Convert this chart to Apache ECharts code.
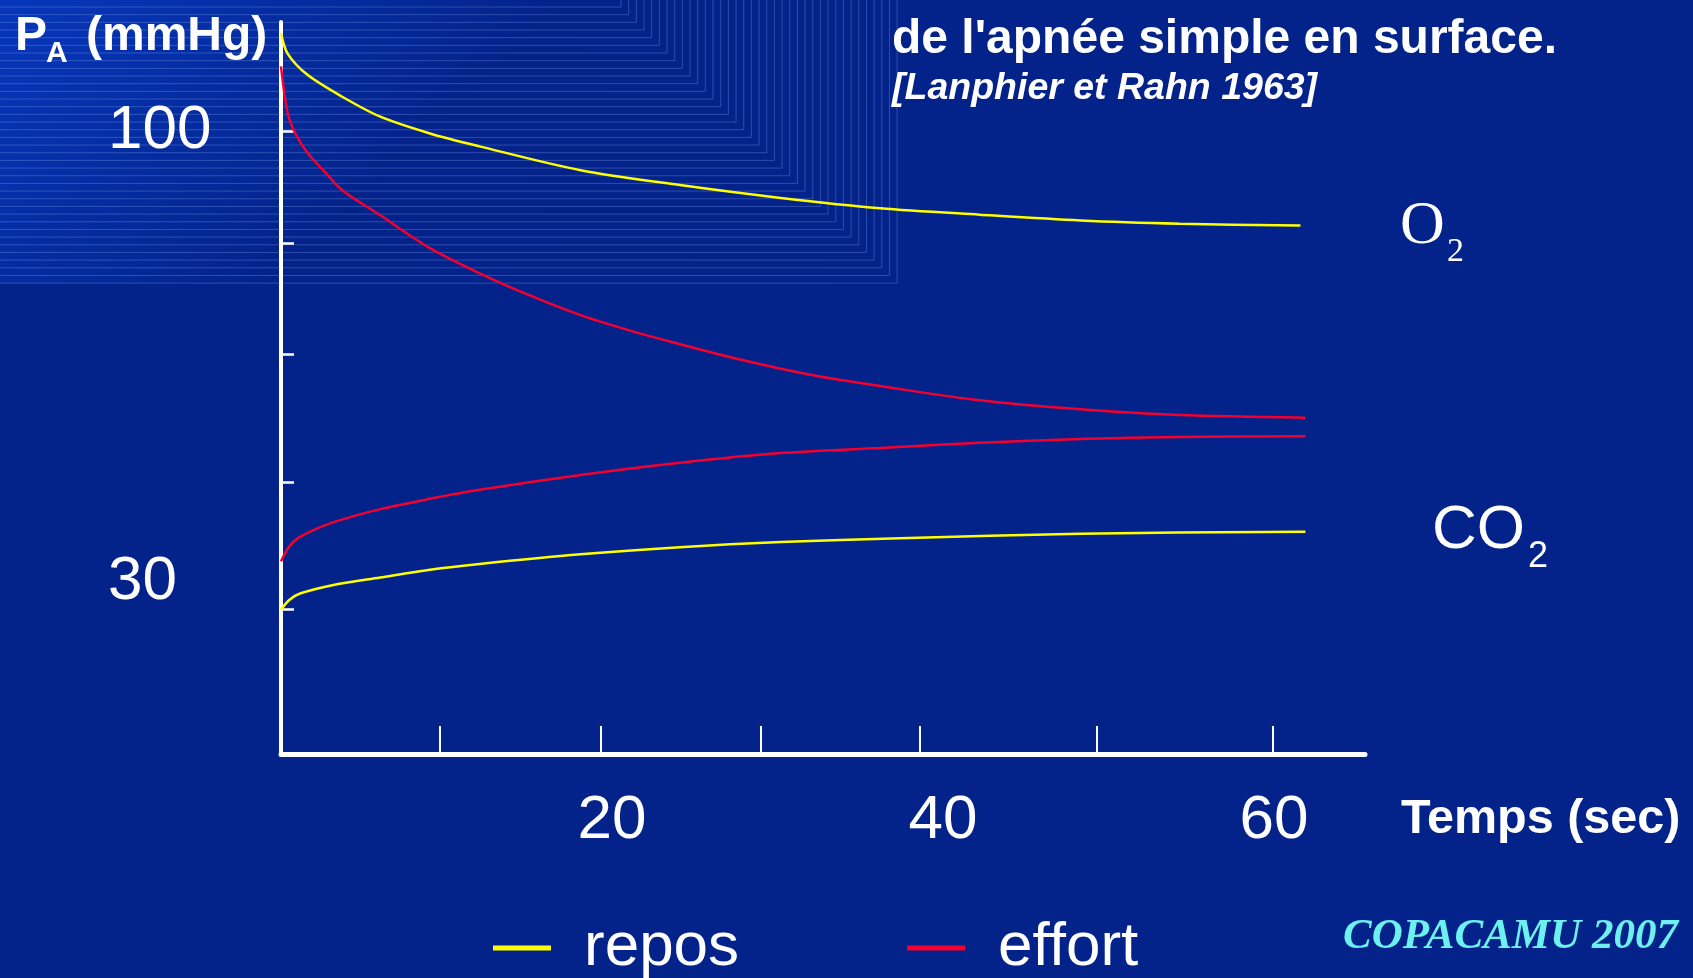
<!DOCTYPE html>
<html>
<head>
<meta charset="utf-8">
<title>Apnée simple en surface</title>
<script src="https://cdn.jsdelivr.net/npm/echarts@6/dist/echarts.min.js"></script>
<style>
  html, body { margin: 0; padding: 0; background: #03238a; }
  #chart { width: 1693px; height: 978px; }
</style>
</head>
<body>
<div id="chart"></div>
<script>
// time (s) / alveolar pressure (mmHg)
let o2Repos = [ [ 0, 115.2 ], [ 0.4, 112 ], [ 1.6, 108.7 ], [ 3.7, 105.3 ], [ 6, 102.2 ], [ 9, 99.6 ], [ 12, 97.6 ], [ 18.1, 93.9 ], [ 24.1, 91.6 ], [ 30.2, 89.6 ], [ 36.2, 88 ], [ 42.2, 87 ], [ 48.3, 86.1 ], [ 54.3, 85.6 ], [ 61.6, 85.3 ] ];
let o2Effort = [ [ 0, 110 ], [ 0.4, 102.8 ], [ 0.85, 99.7 ], [ 1.6, 96.6 ], [ 2.7, 93.5 ], [ 3.7, 90.8 ], [ 6, 86.9 ], [ 9, 81.8 ], [ 12, 77.9 ], [ 15, 74.5 ], [ 18.1, 71.4 ], [ 21.1, 69 ], [ 24.1, 66.9 ], [ 27.1, 64.9 ], [ 30.2, 63.1 ], [ 33.2, 61.6 ], [ 36.2, 60.4 ], [ 42.2, 58.2 ], [ 48.3, 56.8 ], [ 54.3, 55.9 ], [ 61.9, 55.5 ] ];
let co2Effort = [ [ 0, 33.2 ], [ 0.5, 35.5 ], [ 1.15, 37 ], [ 3.1, 39.2 ], [ 6, 41.3 ], [ 9, 42.9 ], [ 12, 44.3 ], [ 18.1, 46.6 ], [ 24.1, 48.5 ], [ 30.2, 50 ], [ 36.2, 50.8 ], [ 42.2, 51.6 ], [ 48.3, 52.2 ], [ 54.3, 52.5 ], [ 61.9, 52.6 ] ];
let co2Repos = [ [ 0, 25.7 ], [ 0.5, 27.2 ], [ 1.15, 28.2 ], [ 3.1, 29.5 ], [ 6, 30.7 ], [ 9, 31.9 ], [ 12, 32.8 ], [ 18.1, 34.3 ], [ 24.1, 35.4 ], [ 30.2, 36.2 ], [ 37.4, 36.8 ], [ 48.3, 37.5 ], [ 61.9, 37.8 ] ];

let xTicks = [ 9.6, 19.3, 29, 38.6, 49.3, 59.9 ];
let xLabels = [ 20, 40, 60 ];
let yTicks = [ 100, 82.6, 65.4, 45.4, 25.7 ];
let yLabels = [ 100, 30 ];

( function ()
{
  let myChart = echarts.init( document.getElementById( 'chart' ) );

  // slide decoration top-left : nested L lines
  let deco = [ {
    type: 'rect',
    z: -20,
    silent: true,
    shape: { x: 0, y: 0, width: 897, height: 283 },
    style: {
      fill: new echarts.graphic.LinearGradient( 0, 0, 0.3, 1, [
        { offset: 0, color: '#0637bb' },
        { offset: 1, color: '#03238a' }
      ] )
    }
  } ];
  for ( let i = -1; i <= 36; i++ )
  {
    let cx = 621 + 7.67 * i;
    let cy = 7 + 7.67 * i;
    deco.push( {
      type: 'polyline',
      z: -19,
      silent: true,
      shape: { points: [ [ 0, cy ], [ cx, cy ], [ cx, 0 ] ] },
      style: { stroke: 'rgba(140,165,235,0.32)', lineWidth: 1, fill: null }
    } );
  }

  let txt = function ( text, x, y, font, color )
  {
    return {
      type: 'text',
      x: x,
      y: y,
      style: { text: text, font: font, fill: color || '#fff', verticalAlign: 'middle', align: 'left' }
    };
  };

  let texts = [
    txt( 'P', 15, 37, 'bold 48px "Liberation Sans", Arial' ),
    txt( 'A', 46, 54, 'bold 30px "Liberation Sans", Arial' ),
    txt( '(mmHg)', 86, 37, 'bold 48px "Liberation Sans", Arial' ),
    txt( "de l'apnée simple en surface.", 892, 40, 'bold 48px "Liberation Sans", Arial' ),
    txt( '[Lanphier et Rahn 1963]', 892, 89, 'italic bold 37.5px "Liberation Sans", Arial' ),
    txt( 'O', 1400, 227, '62px "Liberation Serif", "Times New Roman"' ),
    txt( '2', 1447, 252, '34px "Liberation Serif", "Times New Roman"' ),
    txt( 'CO', 1432, 531, '62px "Liberation Sans", Arial' ),
    txt( '2', 1528, 557, '36px "Liberation Sans", Arial' ),
    txt( 'Temps (sec)', 1401, 820, 'bold 48.5px "Liberation Sans", Arial' ),
    txt( 'COPACAMU 2007', 1343, 937, 'italic bold 43px "Liberation Serif", "Times New Roman"', '#6cf0f0' )
  ];

  let lineSeries = function ( name, color, data )
  {
    return {
      name: name,
      type: 'line',
      data: data,
      smooth: 0.3,
      showSymbol: false,
      color: color,
      lineStyle: { width: 2.5, color: color }
    };
  };

  let option = {
    backgroundColor: '#03238a',
    animation: false,
    textStyle: { fontFamily: '"Liberation Sans", Arial' },
    grid: { left: 281, top: 22, right: 328, bottom: 224, containLabel: false },
    legend: {
      data: [ 'repos', 'effort' ],
      left: 488,
      top: 912,
      icon: 'rect',
      itemWidth: 58,
      itemHeight: 5,
      itemGap: 168,
      textStyle: { color: '#fff', fontSize: 62, padding: [ 0, 0, 0, 28 ] }
    },
    xAxis: {
      type: 'value',
      min: 0,
      max: 65.5,
      splitLine: { show: false },
      axisLine: { lineStyle: { color: '#fff', width: 5 } },
      axisTick: { customValues: xTicks, inside: true, length: 28, lineStyle: { color: '#fff', width: 2 } },
      axisLabel: { customValues: xLabels, color: '#fff', fontSize: 62, margin: 67, verticalAlign: 'middle' }
    },
    yAxis: {
      type: 'value',
      min: 3.3,
      max: 116.9,
      splitLine: { show: false },
      axisLine: { show: true, lineStyle: { color: '#fff', width: 4 } },
      axisTick: { customValues: yTicks, inside: true, length: 13, lineStyle: { color: '#fff', width: 2.5 } },
      axisLabel: { customValues: yLabels, color: '#fff', fontSize: 62, margin: 173, align: 'left', padding: [ 10, 0, 0, 0 ] }
    },
    graphic: deco.concat( texts ),
    series: [
      lineSeries( 'repos', '#ffff00', o2Repos ),
      lineSeries( 'effort', '#f5002e', o2Effort ),
      lineSeries( 'effort', '#f5002e', co2Effort ),
      lineSeries( 'repos', '#ffff00', co2Repos )
    ]
  };
  myChart.setOption( option );
  window.addEventListener( 'resize', function ()
  {
    myChart.resize();
  } );
} )();
</script>
</body>
</html>
